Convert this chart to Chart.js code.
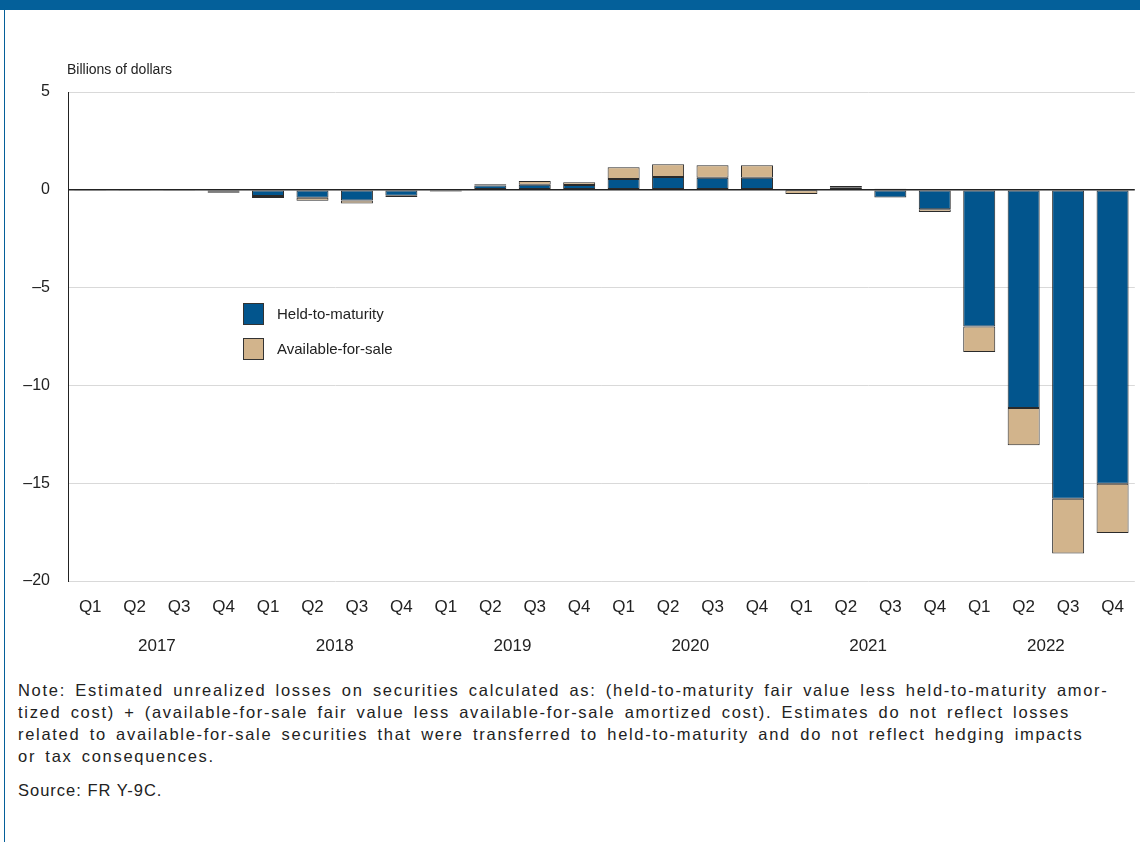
<!DOCTYPE html>
<html>
<head>
<meta charset="utf-8">
<script src="https://cdn.jsdelivr.net/npm/chart.js@4.4.0/dist/chart.umd.min.js"></script>
<style>
  body { margin: 0; background: #fff; font-family: "Liberation Sans", Arial, sans-serif; color: #222; }
  #page { position: relative; width: 1140px; height: 842px; overflow: hidden; }
  #topbar { position: absolute; left: 0; top: 0; width: 1140px; height: 10px; background: #04609a; }
  #leftline { position: absolute; left: 4px; top: 10px; width: 1px; height: 832px; background: #04609a; }
  #chartBox { position: absolute; left: 0; top: 0; }
  #ytitle { position: absolute; left: 67px; top: 61px; font-size: 14px; }
  .leg { position: absolute; left: 243px; font-size: 15px; }
  .leg span.sw { position: absolute; left: 0; top: 0; width: 21px; height: 22px; border: 1px solid #333; box-sizing: border-box; }
  .leg span.tx { position: absolute; left: 34px; top: 2px; white-space: nowrap; }
  #note { position: absolute; left: 18px; top: 679px; font-size: 16.5px; letter-spacing: 1.7px; word-spacing: 3px; line-height: 22px; white-space: nowrap; }
  #source { position: absolute; left: 18px; top: 781px; font-size: 16.5px; letter-spacing: 1px; }
</style>
</head>
<body>
<div id="page">
  <div id="topbar"></div>
  <div id="leftline"></div>
  <div id="chartBox"><canvas id="lossChart" width="1140" height="670"></canvas></div>
  <div id="ytitle">Billions of dollars</div>
  <div class="leg" style="top:303px"><span class="sw" style="background:#02558d"></span><span class="tx">Held-to-maturity</span></div>
  <div class="leg" style="top:338px"><span class="sw" style="background:#d2b48c"></span><span class="tx">Available-for-sale</span></div>
  <div id="note">Note: Estimated unrealized losses on securities calculated as: (held-to-maturity fair value less held-to-maturity amor-<br>tized cost) + (available-for-sale fair value less available-for-sale amortized cost). Estimates do not reflect losses<br>related to available-for-sale securities that were transferred to held-to-maturity and do not reflect hedging impacts<br>or tax consequences.</div>
  <div id="source">Source: FR Y-9C.</div>
</div>
<script>
// Quarters and years on the x axis
const quarters = ['Q1', 'Q2', 'Q3', 'Q4', 'Q1', 'Q2', 'Q3', 'Q4', 'Q1', 'Q2', 'Q3', 'Q4',
                  'Q1', 'Q2', 'Q3', 'Q4', 'Q1', 'Q2', 'Q3', 'Q4', 'Q1', 'Q2', 'Q3', 'Q4'];
const years = ['2017', '2018', '2019', '2020', '2021', '2022'];

// Billions of dollars
const heldToMaturity = [-0.05, -0.02, -0.02, -0.1, -0.32, -0.41, -0.55, -0.3,
                        -0.08, 0.22, 0.26, 0.24, 0.55, 0.66, 0.61, 0.61,
                        -0.02, 0.1, -0.39, -1.0, -6.99, -11.16, -15.8, -15.03];
const availableForSale = [0, 0, 0, -0.05, -0.1, -0.15, -0.15, -0.07,
                          -0.02, 0.07, 0.19, 0.15, 0.6, 0.65, 0.65, 0.65,
                          -0.19, 0.1, 0.05, -0.14, -1.3, -1.9, -2.79, -2.52];
const yTicks = [5, 0, -5, -10, -15, -20];

const fontFamily = '"Liberation Sans", Arial, sans-serif';

const ctx = document.getElementById('lossChart').getContext('2d');
const lossChart = new Chart(ctx, {
  type: 'bar',
  data: {
    labels: quarters,
    datasets: [
      {
        label: 'Held-to-maturity',
        data: heldToMaturity,
        backgroundColor: '#02558d',
        borderColor: '#2a2a2a',
        borderWidth: 1,
        borderSkipped: false
      },
      {
        label: 'Available-for-sale',
        data: availableForSale,
        backgroundColor: '#d2b48c',
        borderColor: '#2a2a2a',
        borderWidth: 1,
        borderSkipped: false
      }
    ]
  },
  options: {
    responsive: false,
    animation: false,
    devicePixelRatio: 1,
    layout: { padding: { top: 92, right: 4, bottom: 4, left: 0 } },
    plugins: {
      legend: { display: false },
      tooltip: { enabled: false }
    },
    scales: {
      x: {
        stacked: true,
        position: 'bottom',
        barPercentage: 0.7,
        categoryPercentage: 1,
        grid: { display: false, drawTicks: false },
        border: { display: false },
        ticks: { color: '#222', font: { family: fontFamily, size: 17 }, padding: 16, maxRotation: 0, autoSkip: false },
        afterFit: (scale) => { scale.height = 45; }
      },
      x2: {
        type: 'category',
        labels: years,
        position: 'bottom',
        offset: true,
        grid: { display: false, drawTicks: false },
        border: { display: false },
        ticks: { color: '#222', font: { family: fontFamily, size: 17 }, padding: 10, maxRotation: 0 },
        afterFit: (scale) => { scale.height = 40; }
      },
      y: {
        stacked: true,
        min: -20,
        max: 5,
        afterBuildTicks: (scale) => { scale.ticks = yTicks.map(v => ({ value: v })); },
        grid: {
          drawTicks: false,
          color: (c) => c.tick && c.tick.value === 0 ? '#222' : '#d9d9d9',
          lineWidth: (c) => c.tick && c.tick.value === 0 ? 1.5 : 1
        },
        border: { display: true, color: '#222', width: 1 },
        ticks: {
          color: '#222',
          font: { family: fontFamily, size: 16 },
          padding: 18,
          callback: (v) => String(v).replace('-', '\u2013')
        },
        afterFit: (scale) => { scale.width = 68; }
      }
    }
  }
});
</script>
</body>
</html>
